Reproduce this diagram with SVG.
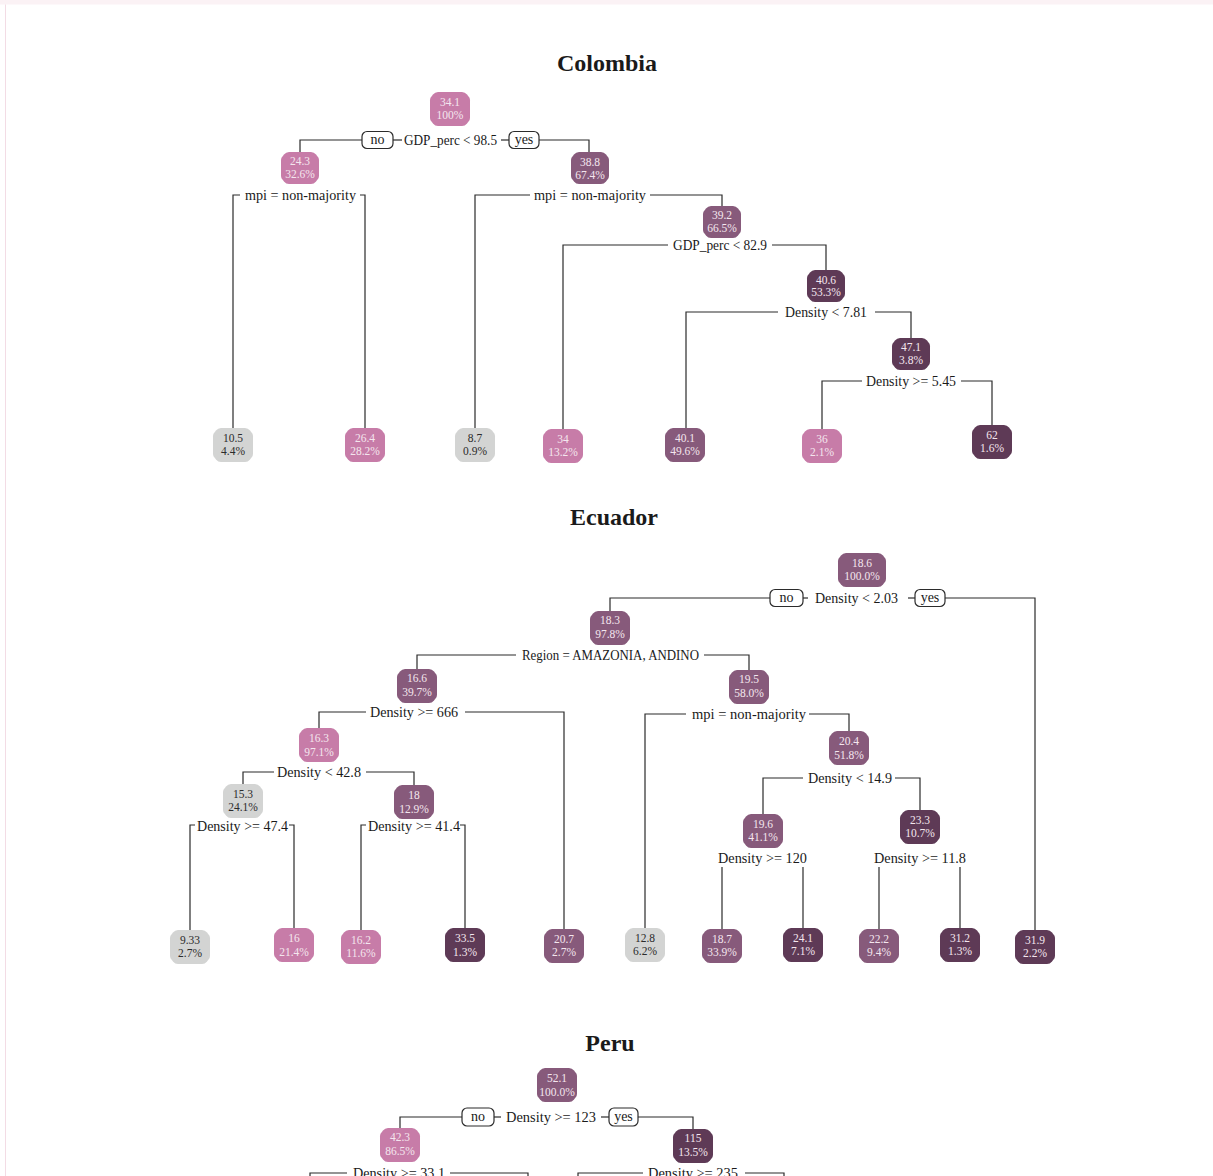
<svg xmlns="http://www.w3.org/2000/svg" xmlns:xlink="http://www.w3.org/1999/xlink" width="1213" height="1176" viewBox="0 0 1213 1176">
<style>
.bg{fill:#ffffff}
.title{font-family:"Liberation Serif",serif;font-weight:bold;font-size:24px;fill:#1a1a1a;text-anchor:middle;dominant-baseline:central}
.split{font-family:"Liberation Serif",serif;font-size:14px;fill:#1a1a1a;dominant-baseline:central}
.nt{font-family:"Liberation Serif",serif;font-size:11.5px;text-anchor:middle;dominant-baseline:central;fill:#f4e6ee}
.nt.g{fill:#2b2b2b}
.pink{fill:#c77ca8}
.med{fill:#875a7b}
.dark{fill:#5e3a56}
.gray{fill:#d3d4d3}
.conn path{fill:none;stroke:#2b2b2b;stroke-width:1.2}
.lab rect{fill:#ffffff;stroke:#2b2b2b;stroke-width:1.2}
.lab text{font-family:"Liberation Serif",serif;font-size:14px;fill:#1a1a1a;text-anchor:middle;dominant-baseline:central}
</style>
<defs>
<path id="nd" d="M-12,-17 H12 Q15,-17 17,-14.5 L19.3,-11.5 Q20,-10.5 20,-8.5 V8.5 Q20,10.5 19.3,11.5 L17,14.5 Q15,17 12,17 H-12 Q-15,17 -17,14.5 L-19.3,11.5 Q-20,10.5 -20,8.5 V-8.5 Q-20,-10.5 -19.3,-11.5 L-17,-14.5 Q-15,-17 -12,-17 Z"/>
<path id="ndw" d="M-16,-17 H16 Q19,-17 21,-14.5 L23.3,-11.5 Q24,-10.5 24,-8.5 V8.5 Q24,10.5 23.3,11.5 L21,14.5 Q19,17 16,17 H-16 Q-19,17 -21,14.5 L-23.3,11.5 Q-24,10.5 -24,8.5 V-8.5 Q-24,-10.5 -23.3,-11.5 L-21,-14.5 Q-19,-17 -16,-17 Z"/>
<path id="nds" d="M-11,-16 H11 Q14,-16 16,-13.5 L18.3,-10.5 Q19,-9.5 19,-7.5 V7.5 Q19,9.5 18.3,10.5 L16,13.5 Q14,16 11,16 H-11 Q-14,16 -16,13.5 L-18.3,10.5 Q-19,9.5 -19,7.5 V-7.5 Q-19,-9.5 -18.3,-10.5 L-16,-13.5 Q-14,-16 -11,-16 Z"/>
</defs>
<rect class="bg" x="0" y="0" width="1213" height="1176"/>
<rect x="0" y="0" width="1213" height="4.5" fill="#fbf2f5"/>
<line x1="5.5" y1="4.5" x2="5.5" y2="1176" stroke="#f3dce5" stroke-width="1"/>

<text class="title" x="607" y="63">Colombia</text>
<text class="title" x="614" y="517">Ecuador</text>
<text class="title" x="610" y="1043">Peru</text>

<g id="connectors" class="conn">
<!-- Colombia -->
<path d="M300,153 V140 H362"/>
<path d="M393,140 H402"/>
<path d="M501,140 H509"/>
<path d="M539,140 H589 V153"/>
<path d="M233,429 V195 H240"/>
<path d="M360,195 H365 V429"/>
<path d="M475,429 V195 H530"/>
<path d="M650,195 H722 V207"/>
<path d="M563,429 V245 H668"/>
<path d="M772,245 H826 V271"/>
<path d="M686,429 V312 H778"/>
<path d="M875,312 H911 V339"/>
<path d="M822,429 V381 H862"/>
<path d="M961,381 H992 V426"/>
<!-- Ecuador -->
<path d="M610,612 V598 H770"/>
<path d="M803,598 H808"/>
<path d="M908,598 H916"/>
<path d="M945,598 H1035 V930"/>
<path d="M417,670 V655 H516"/>
<path d="M704,655 H749 V671"/>
<path d="M319,729 V712 H366"/>
<path d="M465,712 H564 V930"/>
<path d="M243,787 V772 H274"/>
<path d="M366,772 H414 V788"/>
<path d="M190,930 V825 H195"/>
<path d="M289,825 H294 V930"/>
<path d="M361,930 V825 H366"/>
<path d="M460,825 H465 V930"/>
<path d="M645,930 V714 H686"/>
<path d="M809,714 H849 V732"/>
<path d="M763,815 V778 H803"/>
<path d="M895,778 H920 V810"/>
<path d="M722,867 V930"/>
<path d="M803,867 V930"/>
<path d="M879,867 V930"/>
<path d="M960,867 V930"/>
<!-- Peru -->
<path d="M400,1129 V1117 H462"/>
<path d="M494,1117 H501"/>
<path d="M601,1117 H609"/>
<path d="M638,1117 H693 V1129"/>
<path d="M310,1180 V1173 H347"/>
<path d="M450,1173 H528 V1180"/>
<path d="M578,1180 V1173 H643"/>
<path d="M745,1173 H784 V1180"/>
</g>

<g id="edge-labels" class="lab">
<rect x="362" y="131.5" width="31" height="17" rx="5"/><text x="377.5" y="139.5">no</text>
<rect x="509" y="131.5" width="30" height="17" rx="5"/><text x="524" y="139.5">yes</text>
<rect x="770" y="589.5" width="33" height="17" rx="5"/><text x="786.5" y="597.5">no</text>
<rect x="915" y="589.5" width="30" height="17" rx="5"/><text x="930" y="597.5">yes</text>
<rect x="462" y="1108" width="32" height="18" rx="5"/><text x="478" y="1116.5">no</text>
<rect x="609" y="1108" width="29" height="18" rx="5"/><text x="623.5" y="1116.5">yes</text>
</g>

<g id="split-labels">
<text class="split" x="404" y="140" textLength="93" lengthAdjust="spacingAndGlyphs">GDP_perc &lt; 98.5</text>
<text class="split" x="245" y="195" textLength="111" lengthAdjust="spacingAndGlyphs">mpi = non-majority</text>
<text class="split" x="534" y="195" textLength="112" lengthAdjust="spacingAndGlyphs">mpi = non-majority</text>
<text class="split" x="673" y="245" textLength="94" lengthAdjust="spacingAndGlyphs">GDP_perc &lt; 82.9</text>
<text class="split" x="785" y="312" textLength="82" lengthAdjust="spacingAndGlyphs">Density &lt; 7.81</text>
<text class="split" x="866" y="381" textLength="90" lengthAdjust="spacingAndGlyphs">Density &gt;= 5.45</text>
<text class="split" x="815" y="598" textLength="83" lengthAdjust="spacingAndGlyphs">Density &lt; 2.03</text>
<text class="split" x="522" y="655" textLength="177" lengthAdjust="spacingAndGlyphs">Region = AMAZONIA, ANDINO</text>
<text class="split" x="370" y="712" textLength="88" lengthAdjust="spacingAndGlyphs">Density &gt;= 666</text>
<text class="split" x="692" y="714" textLength="114" lengthAdjust="spacingAndGlyphs">mpi = non-majority</text>
<text class="split" x="277" y="772" textLength="84" lengthAdjust="spacingAndGlyphs">Density &lt; 42.8</text>
<text class="split" x="808" y="778" textLength="84" lengthAdjust="spacingAndGlyphs">Density &lt; 14.9</text>
<text class="split" x="197" y="826" textLength="91" lengthAdjust="spacingAndGlyphs">Density &gt;= 47.4</text>
<text class="split" x="368" y="826" textLength="92" lengthAdjust="spacingAndGlyphs">Density &gt;= 41.4</text>
<text class="split" x="718" y="858" textLength="89" lengthAdjust="spacingAndGlyphs">Density &gt;= 120</text>
<text class="split" x="874" y="858" textLength="92" lengthAdjust="spacingAndGlyphs">Density &gt;= 11.8</text>
<text class="split" x="506" y="1117" textLength="90" lengthAdjust="spacingAndGlyphs">Density &gt;= 123</text>
<text class="split" x="353" y="1173" textLength="92" lengthAdjust="spacingAndGlyphs">Density &gt;= 33.1</text>
<text class="split" x="648" y="1173" textLength="90" lengthAdjust="spacingAndGlyphs">Density &gt;= 235</text>
</g>

<!-- Colombia nodes -->
<g id="col_root"><use href="#nd" class="pink" x="450" y="109"/><text class="nt" x="450" y="102">34.1</text><text class="nt" x="450" y="115">100%</text></g>
<g id="col_n2"><use href="#nds" class="pink" x="300" y="168"/><text class="nt" x="300" y="161">24.3</text><text class="nt" x="300" y="174">32.6%</text></g>
<g id="col_n3"><use href="#nds" class="med" x="590" y="168"/><text class="nt" x="590" y="162">38.8</text><text class="nt" x="590" y="175">67.4%</text></g>
<g id="col_n7"><use href="#nds" class="med" x="722" y="222"/><text class="nt" x="722" y="215">39.2</text><text class="nt" x="722" y="228">66.5%</text></g>
<g id="col_n15"><use href="#nds" class="dark" x="826" y="286"/><text class="nt" x="826" y="280">40.6</text><text class="nt" x="826" y="292">53.3%</text></g>
<g id="col_n31"><use href="#nds" class="dark" x="911" y="354"/><text class="nt" x="911" y="347">47.1</text><text class="nt" x="911" y="360">3.8%</text></g>
<g id="col_l1"><use href="#nd" class="gray" x="233" y="445"/><text class="nt g" x="233" y="438">10.5</text><text class="nt g" x="233" y="451">4.4%</text></g>
<g id="col_l2"><use href="#nd" class="pink" x="365" y="445"/><text class="nt" x="365" y="438">26.4</text><text class="nt" x="365" y="451">28.2%</text></g>
<g id="col_l3"><use href="#nd" class="gray" x="475" y="445"/><text class="nt g" x="475" y="438">8.7</text><text class="nt g" x="475" y="451">0.9%</text></g>
<g id="col_l4"><use href="#nd" class="pink" x="563" y="446"/><text class="nt" x="563" y="439">34</text><text class="nt" x="563" y="452">13.2%</text></g>
<g id="col_l5"><use href="#nd" class="med" x="685" y="445"/><text class="nt" x="685" y="438">40.1</text><text class="nt" x="685" y="451">49.6%</text></g>
<g id="col_l6"><use href="#nd" class="pink" x="822" y="446"/><text class="nt" x="822" y="439">36</text><text class="nt" x="822" y="452">2.1%</text></g>
<g id="col_l7"><use href="#nd" class="dark" x="992" y="442"/><text class="nt" x="992" y="435">62</text><text class="nt" x="992" y="448">1.6%</text></g>

<!-- Ecuador nodes -->
<g id="ecu_root"><use href="#ndw" class="med" x="862" y="570"/><text class="nt" x="862" y="563">18.6</text><text class="nt" x="862" y="576">100.0%</text></g>
<g id="ecu_n2"><use href="#nd" class="med" x="610" y="628"/><text class="nt" x="610" y="620">18.3</text><text class="nt" x="610" y="634">97.8%</text></g>
<g id="ecu_n4"><use href="#nd" class="med" x="417" y="686"/><text class="nt" x="417" y="678">16.6</text><text class="nt" x="417" y="692">39.7%</text></g>
<g id="ecu_n5"><use href="#nd" class="med" x="749" y="687"/><text class="nt" x="749" y="679">19.5</text><text class="nt" x="749" y="693">58.0%</text></g>
<g id="ecu_n8"><use href="#nd" class="pink" x="319" y="745"/><text class="nt" x="319" y="738">16.3</text><text class="nt" x="319" y="752">97.1%</text></g>
<g id="ecu_n11"><use href="#nd" class="med" x="849" y="748"/><text class="nt" x="849" y="741">20.4</text><text class="nt" x="849" y="755">51.8%</text></g>
<g id="ecu_n16"><use href="#nd" class="gray" x="243" y="801"/><text class="nt g" x="243" y="794">15.3</text><text class="nt g" x="243" y="807">24.1%</text></g>
<g id="ecu_n17"><use href="#nd" class="med" x="414" y="802"/><text class="nt" x="414" y="795">18</text><text class="nt" x="414" y="809">12.9%</text></g>
<g id="ecu_n22"><use href="#nd" class="med" x="763" y="831"/><text class="nt" x="763" y="824">19.6</text><text class="nt" x="763" y="837">41.1%</text></g>
<g id="ecu_n23"><use href="#nd" class="dark" x="920" y="827"/><text class="nt" x="920" y="820">23.3</text><text class="nt" x="920" y="833">10.7%</text></g>
<g id="ecu_l1"><use href="#nd" class="gray" x="190" y="947"/><text class="nt g" x="190" y="940">9.33</text><text class="nt g" x="190" y="953">2.7%</text></g>
<g id="ecu_l2"><use href="#nd" class="pink" x="294" y="945"/><text class="nt" x="294" y="938">16</text><text class="nt" x="294" y="952">21.4%</text></g>
<g id="ecu_l3"><use href="#nd" class="pink" x="361" y="947"/><text class="nt" x="361" y="940">16.2</text><text class="nt" x="361" y="953">11.6%</text></g>
<g id="ecu_l4"><use href="#nd" class="dark" x="465" y="945"/><text class="nt" x="465" y="938">33.5</text><text class="nt" x="465" y="952">1.3%</text></g>
<g id="ecu_l5"><use href="#nd" class="med" x="564" y="946"/><text class="nt" x="564" y="939">20.7</text><text class="nt" x="564" y="952">2.7%</text></g>
<g id="ecu_l6"><use href="#nd" class="gray" x="645" y="945"/><text class="nt g" x="645" y="938">12.8</text><text class="nt g" x="645" y="951">6.2%</text></g>
<g id="ecu_l7"><use href="#nd" class="med" x="722" y="946"/><text class="nt" x="722" y="939">18.7</text><text class="nt" x="722" y="952">33.9%</text></g>
<g id="ecu_l8"><use href="#nd" class="dark" x="803" y="945"/><text class="nt" x="803" y="938">24.1</text><text class="nt" x="803" y="951">7.1%</text></g>
<g id="ecu_l9"><use href="#nd" class="med" x="879" y="946"/><text class="nt" x="879" y="939">22.2</text><text class="nt" x="879" y="952">9.4%</text></g>
<g id="ecu_l10"><use href="#nd" class="dark" x="960" y="945"/><text class="nt" x="960" y="938">31.2</text><text class="nt" x="960" y="951">1.3%</text></g>
<g id="ecu_l11"><use href="#nd" class="dark" x="1035" y="947"/><text class="nt" x="1035" y="940">31.9</text><text class="nt" x="1035" y="953">2.2%</text></g>

<!-- Peru nodes -->
<g id="per_root"><use href="#nd" class="med" x="557" y="1085"/><text class="nt" x="557" y="1078">52.1</text><text class="nt" x="557" y="1092">100.0%</text></g>
<g id="per_n2"><use href="#nd" class="pink" x="400" y="1145"/><text class="nt" x="400" y="1137">42.3</text><text class="nt" x="400" y="1151">86.5%</text></g>
<g id="per_n3"><use href="#nd" class="dark" x="693" y="1146"/><text class="nt" x="693" y="1138">115</text><text class="nt" x="693" y="1152">13.5%</text></g>
</svg>
